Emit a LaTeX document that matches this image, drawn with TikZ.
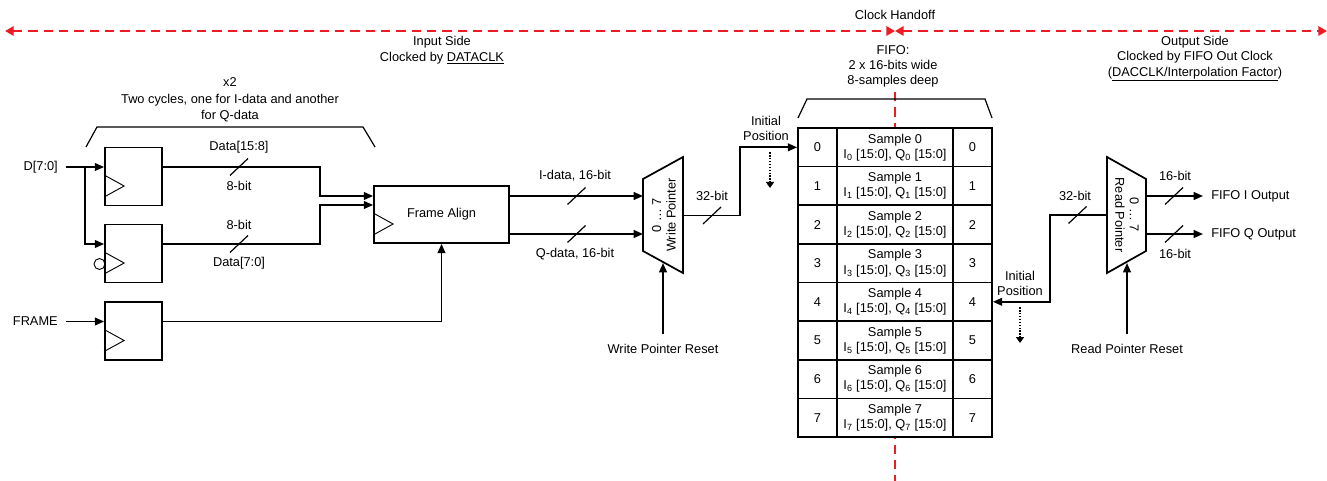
\documentclass[tikz,border=0pt]{standalone}
\usepackage{fontspec}
\setmainfont{Liberation Sans}
\usepackage{tikz}
\usetikzlibrary{arrows.meta,calc}
\definecolor{handred}{RGB}{237,28,36}
\newcommand{\lblfont}{\fontsize{9.6}{11.3}\selectfont}
\newcommand{\widefont}{\fontsize{9.6}{12.3}\selectfont}
\newcommand{\muxfont}{\fontsize{9.6}{10.8}\selectfont}
\tikzstyle{txt} = [font=\lblfont, inner sep=1.5pt, align=center]
\tikzstyle{flop} = [rectangle, draw=black, line width=1.3pt, minimum width=42.75pt, minimum height=43.5pt, inner sep=0pt, font=\lblfont]
\tikzstyle{wire} = [line width=1.3pt]
\tikzstyle{arrow} = [wire, -{Triangle[length=7pt,width=5.8pt]}]
\tikzstyle{busslash} = [line width=0.9pt]
\tikzstyle{brace} = [line width=0.9pt]
\tikzstyle{clk} = [line width=0.7pt]
\tikzstyle{cell} = [rectangle, draw=black, line width=1.3pt, fill=white, minimum height=28.97pt, inner sep=0pt, font=\lblfont, align=center]
\tikzstyle{handoff} = [draw=handred, line width=2.2pt, dash pattern=on 7pt off 4.5pt]
\tikzstyle{hoarrow} = [handoff, {Triangle[length=6.5pt,width=7pt]}-{Triangle[length=6.5pt,width=7pt]}]
\tikzstyle{moves} = [line width=1.8pt, dash pattern=on 1.2pt off 1pt, -{Triangle[length=4.5pt,width=6pt]}]

\begin{document}
\begin{tikzpicture}[x=0.75pt,y=-0.75pt]
\useasboundingbox (0,0) rectangle (1327,481);

% clock domains
\node[txt] (handofftxt) at (895,15) {Clock Handoff};
\coordinate (leftend) at (5,31);
\coordinate (handoff) at (895,31);
\coordinate (rightend) at (1327,31);
\draw[hoarrow] (leftend) -- (handoff);
\draw[hoarrow] (handoff) -- (rightend);
\coordinate (splittop) at (895,92);
\coordinate (splitbot) at (895,481);
\draw[handoff] (splittop) -- (splitbot);

\node[txt, font=\widefont] (inside) at (442,50) {Input Side\\Clocked by \underline{DATACLK}};
\node[txt] (fifohead) at (893,66) {FIFO:\\2 x 16-bits wide\\8-samples deep};
\node[txt] (outside) at (1195,59) {Output Side\\Clocked by FIFO Out Clock\\(\underline{DACCLK/Interpolation Factor})};
\node[txt, font=\widefont] (twocyc) at (230,100) {x2\\Two cycles, one for I-data and another\\for Q-data};

% braces
\draw[brace] (86,147) -- (97,127) -- (363,127) -- (375,147);
\draw[brace] (798,118) -- (807,99) -- (985,99) -- (992,118);

% input flops
\node[flop] (ff1) at (133.5,176.5) {};
\node[flop] (ff2) at (133.5,253.5) {};
\node[flop] (ff3) at (133.5,331) {};
\node[flop, minimum width=101.25pt, minimum height=42.75pt] (fa) at (441.5,214.5) {Frame Align};
\foreach \f in {ff1,ff2,ff3,fa}
  \draw[clk] ($(\f.west)+(0,-1.5)$) -- ($(\f.west)+(20,9.5)$) -- ($(\f.west)+(0,20.5)$);
\draw[clk] (99.5,264) circle (4.1pt);

\coordinate (ff1d) at ($(ff1.west)+(0,-9.5)$);
\coordinate (ff2d) at ($(ff2.west)+(0,-9.5)$);
\coordinate (ff3d) at ($(ff3.west)+(0,-9.5)$);
\coordinate (ff1q) at ($(ff1.east)+(0,-9.5)$);
\coordinate (ff2q) at ($(ff2.east)+(0,-9.5)$);
\coordinate (ff3q) at ($(ff3.east)+(0,-9.5)$);
\coordinate (fa1) at ($(fa.west)+(0,-18.5)$);
\coordinate (fa2) at ($(fa.west)+(0,-9.5)$);
\coordinate (faI) at ($(fa.east)+(0,-18.5)$);
\coordinate (faQ) at ($(fa.east)+(0,19.5)$);

\node[txt, anchor=east, inner xsep=6pt] (din) at (66,167) {D[7:0]};
\node[txt, anchor=east, inner xsep=6pt] (frame) at (66,321.5) {FRAME};
\coordinate (dsplit) at (85,167);
\draw[arrow] (din.east) -- (ff1d);
\draw[arrow] (dsplit) |- (ff2d);
\draw[arrow] (frame.east) -- (ff3d);

\draw[arrow] (ff1q) -| ($(fa1)+(-53,0)$) -- (fa1);
\draw[arrow] (ff2q) -| ($(fa2)+(-53,0)$) -- (fa2);
\draw[arrow] (ff3q) -| (fa.south);

% write pointer
\draw[wire] (643,179) -- (683,157) -- (683,273) -- (643,251) -- cycle;
\node[txt, font=\muxfont, rotate=90] (wmtxt) at (664,215) {0 \dots\ 7\\Write Pointer};
\coordinate (wmI) at (643,196);
\coordinate (wmQ) at (643,234);
\coordinate (wmout) at (683,215.5);
\coordinate (wmrst) at (663,263);
\draw[arrow] (faI) -- (wmI);
\draw[arrow] (faQ) -- (wmQ);
\node[txt] (wrst) at (663,349) {Write Pointer Reset};
\draw[arrow, shorten <=6pt] (wrst.north) -- (wmrst);

% FIFO
\foreach \k in {0,...,7} {
  \pgfmathsetmacro\yy{128+(\k+0.5)*38.625}
  \node[cell, minimum width=29.25pt] (idxl\k) at (817.5,\yy) {\k};
  \node[cell, minimum width=87pt] (samp\k) at (895,\yy) {Sample \k\\I\textsubscript{\k} [15:0], Q\textsubscript{\k} [15:0]};
  \node[cell, minimum width=29.25pt] (idxr\k) at (972.5,\yy) {\k};
}

\draw[arrow] (wmout) -| ($(idxl0.west)+(-57,0)$) -- (idxl0.west);
\node[txt] (initw) at (766,128) {Initial\\Position};
\coordinate (movew1) at (770,152);
\coordinate (movew2) at (770,188);
\draw[moves] (movew1) -- (movew2);

% read pointer
\draw[wire] (1107,157) -- (1146,179) -- (1146,251) -- (1107,273) -- cycle;
\node[txt, font=\muxfont, rotate=-90] (rmtxt) at (1127,215) {0 \dots\ 7\\Read Pointer};
\coordinate (rmin) at (1107,215);
\coordinate (rmI) at (1146,196);
\coordinate (rmQ) at (1146,234);
\coordinate (rmrst) at (1127,263);
\draw[arrow] (rmin) -| ($(idxr4.east)+(57,0)$) -- (idxr4.east);
\node[txt] (initr) at (1020,283.5) {Initial\\Position};
\coordinate (mover1) at (1020,307);
\coordinate (mover2) at (1020,343);
\draw[moves] (mover1) -- (mover2);
\node[txt] (rrst) at (1127,349) {Read Pointer Reset};
\draw[arrow, shorten <=6pt] (rrst.north) -- (rmrst);

\node[txt, anchor=west, inner xsep=6pt] (fifoi) at (1203,196) {FIFO I Output};
\node[txt, anchor=west, inner xsep=6pt] (fifoq) at (1203,234) {FIFO Q Output};
\draw[arrow] (rmI) -- (fifoi.west);
\draw[arrow] (rmQ) -- (fifoq.west);

% bus widths
\foreach \px/\py in {239/167,239/244,576.5/196,576.5/234,712/215.5,1077.5/215,1174/196,1174/234}
  \draw[busslash] ($(\px,\py)+(-9,8.5)$) -- ++(18,-17);
\node[txt] (d158) at (239,147) {Data[15:8]};
\node[txt] (w1) at (239,186) {8-bit};
\node[txt] (w2) at (239,225) {8-bit};
\node[txt] (d70) at (239,263) {Data[7:0]};
\node[txt] (idata) at (575,176) {I-data, 16-bit};
\node[txt] (qdata) at (575,254) {Q-data, 16-bit};
\node[txt] (w32a) at (712,196) {32-bit};
\node[txt] (w32b) at (1075,196) {32-bit};
\node[txt] (w16a) at (1175,176) {16-bit};
\node[txt] (w16b) at (1175,254) {16-bit};
\end{tikzpicture}
\end{document}
